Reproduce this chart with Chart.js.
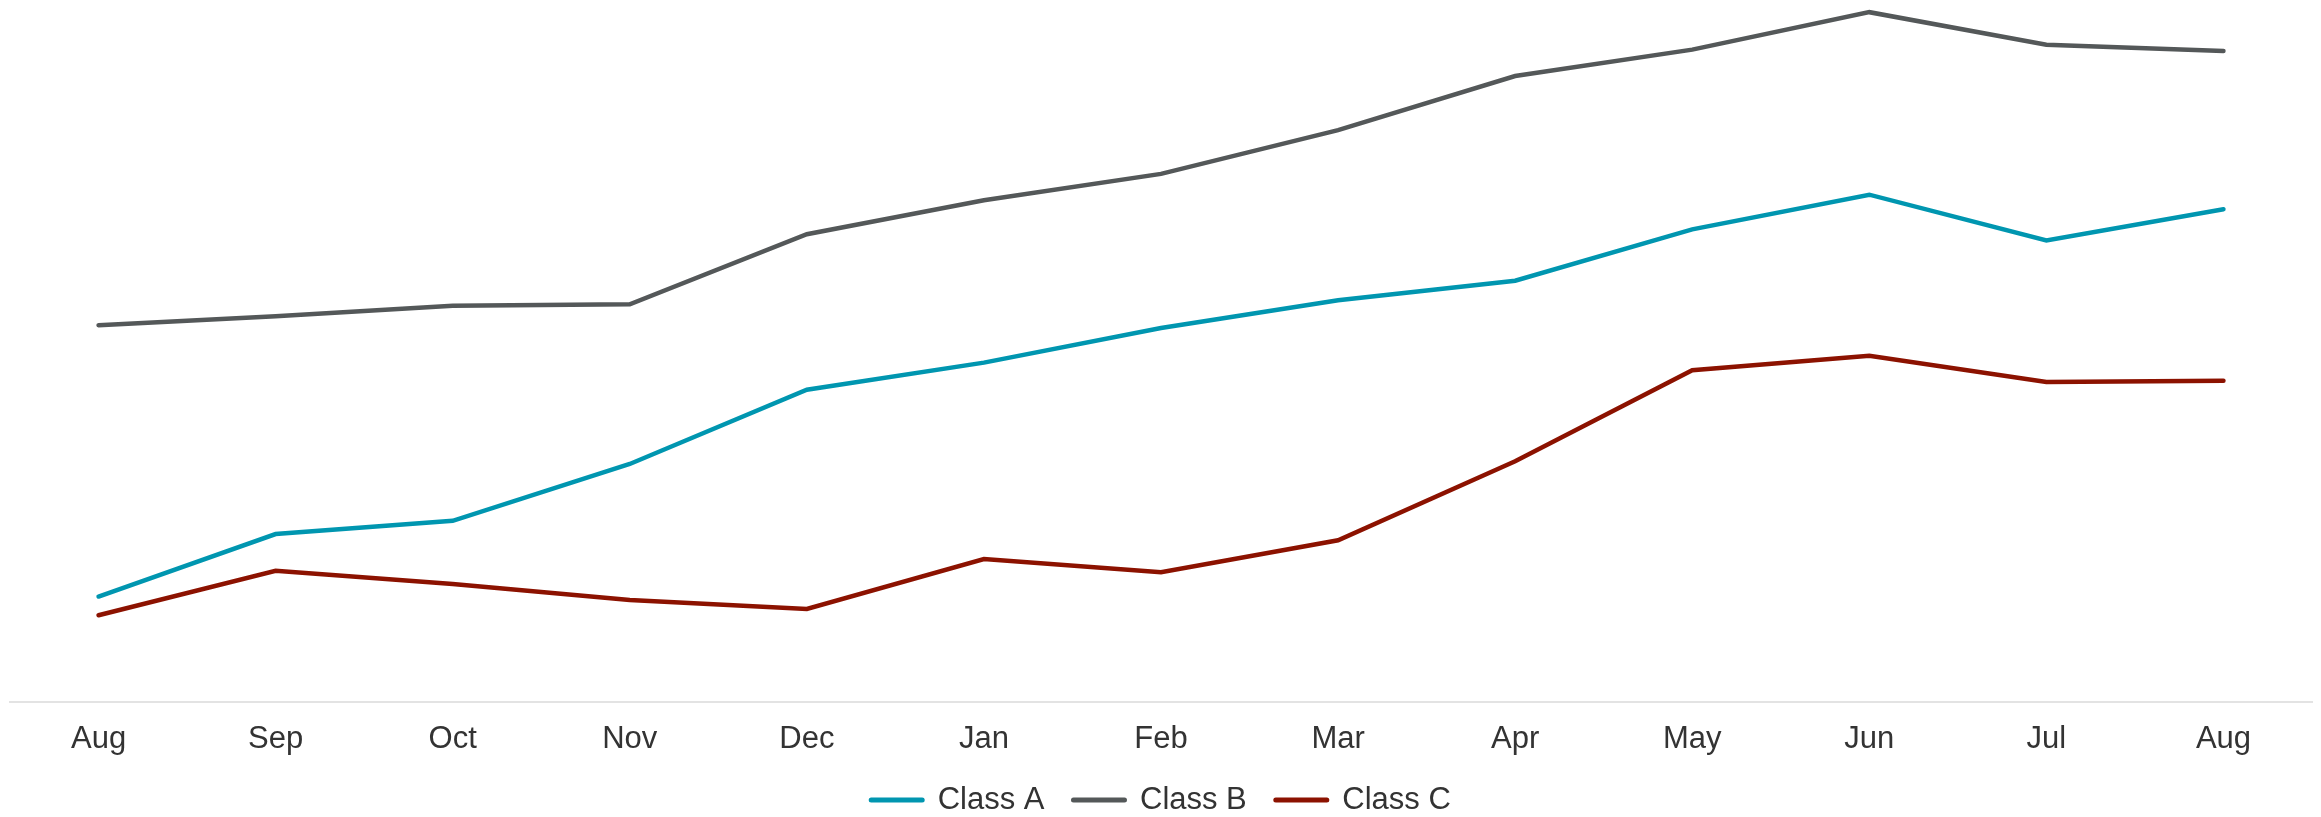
<!DOCTYPE html>
<html>
<head>
<meta charset="utf-8">
<title>Class trends</title>
<script src="https://cdn.jsdelivr.net/npm/chart.js@4.4.1/dist/chart.umd.min.js"></script>
<style>
  html, body { margin: 0; padding: 0; background: #ffffff; }
  #wrap { width: 2321px; height: 817px; }
  canvas { display: block; }
</style>
</head>
<body>
<div id="wrap"><canvas id="chart" width="2321" height="817"></canvas></div>
<script>
// Monthly categories, August through the following August
const months = ['Aug', 'Sep', 'Oct', 'Nov', 'Dec', 'Jan', 'Feb', 'Mar', 'Apr', 'May', 'Jun', 'Jul', 'Aug'];

// Index values per class (0–100 scale)
const classA = [15.2, 24.2, 26.1, 34.3, 45.0, 48.9, 53.9, 57.9, 60.7, 68.1, 73.1, 66.5, 71.0];
const classB = [54.3, 55.6, 57.1, 57.3, 67.4, 72.3, 76.1, 82.4, 90.2, 94.0, 99.4, 94.7, 93.8];
const classC = [12.5, 18.9, 17.0, 14.7, 13.4, 20.6, 18.7, 23.3, 34.7, 47.8, 49.9, 46.1, 46.3];

const seriesNames = ['Class A', 'Class B', 'Class C'];
const seriesColors = ['#0096B0', '#545859', '#8C1200'];

const FONT = "'Liberation Sans', Arial, Helvetica, sans-serif";
const TEXT = '#333333';

function lineSeries(label, data, color) {
  return {
    label,
    data,
    borderColor: color,
    backgroundColor: color,
    borderWidth: 4.5,
    borderCapStyle: 'round',
    borderJoinStyle: 'miter',
    pointRadius: 0,
    pointHoverRadius: 0,
    tension: 0,
    fill: false
  };
}

new Chart(document.getElementById('chart'), {
  type: 'line',
  data: {
    labels: months,
    datasets: [
      lineSeries(seriesNames[0], classA, seriesColors[0]),
      lineSeries(seriesNames[1], classB, seriesColors[1]),
      lineSeries(seriesNames[2], classC, seriesColors[2])
    ]
  },
  options: {
    responsive: false,
    devicePixelRatio: 1,
    animation: false,
    layout: { padding: { left: 10, right: 9, top: 8, bottom: -8.5 } },
    scales: {
      x: {
        offset: true,
        grid: { display: false, drawTicks: false },
        border: { display: true, color: '#E3E3E3', width: 2 },
        ticks: {
          color: TEXT,
          font: { family: FONT, size: 31, lineHeight: 1.2 },
          padding: 19,
          maxRotation: 0,
          autoSkip: false
        },
        afterFit: (scale) => { scale.height = 53.5; }
      },
      y: {
        display: false,
        min: 0,
        max: 100
      }
    },
    plugins: {
      tooltip: { enabled: false },
      legend: {
        position: 'bottom',
        labels: {
          color: TEXT,
          font: { family: FONT, size: 31 },
          usePointStyle: true,
          pointStyle: 'line',
          pointStyleWidth: 51,
          padding: 29,
          generateLabels: (chart) => {
            const items = Chart.defaults.plugins.legend.labels.generateLabels(chart);
            return items.map((it) => Object.assign(it, { lineWidth: 5, lineCap: 'round' }));
          }
        }
      }
    }
  }
});
</script>
</body>
</html>
